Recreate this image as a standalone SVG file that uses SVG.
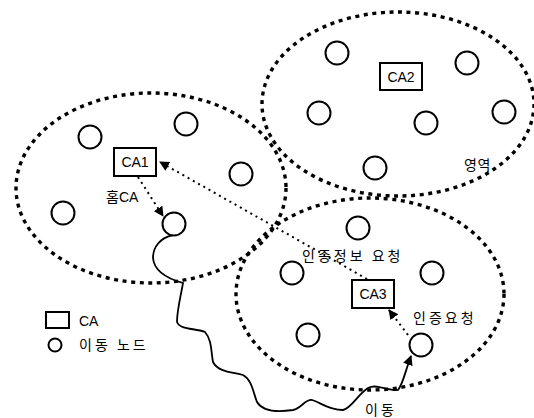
<svg xmlns="http://www.w3.org/2000/svg" width="534" height="418" viewBox="0 0 534 418">
<style>
.region{fill:none;stroke:#000;stroke-width:3.4;stroke-dasharray:4 4.6}
.node{fill:#fff;stroke:#000;stroke-width:2}
.ca{fill:#fff;stroke:#000;stroke-width:2}
.t{font-family:"Liberation Sans",Arial,sans-serif;font-size:14px;fill:#000}
.k{font-family:"Noto Sans CJK KR","Noto Sans",sans-serif;font-size:14px;fill:#000;letter-spacing:3px}
.dot{fill:none;stroke:#000;stroke-width:2;stroke-dasharray:2 4}
.move{fill:none;stroke:#000;stroke-width:1.8}
</style>
<defs>
<marker id="ah" viewBox="0 0 10 10" refX="9" refY="5" markerWidth="10" markerHeight="10" markerUnits="userSpaceOnUse" orient="auto">
<path d="M0,0 L10,5 L0,10 z" fill="#000"/>
</marker>
</defs>
<rect width="534" height="418" fill="#fff"/>
<g id="regions">
<ellipse id="region1" class="region" cx="151" cy="188" rx="135" ry="95"/>
<ellipse id="region2" class="region" cx="398" cy="104" rx="136" ry="92"/>
<ellipse id="region3" class="region" cx="370" cy="294" rx="134" ry="96"/>
</g>
<g id="connectors">
<path class="dot" d="M367,279 L160,162" marker-end="url(#ah)"/>
<path class="dot" d="M138,177 L163,216" marker-end="url(#ah)"/>
<path class="dot" d="M408,335 L389,310" marker-end="url(#ah)"/>
<path class="move" d="M173,235 C160,238 153,247 153,258 C154,270 165,278 183,283 C181,295 177,310 177,322 C180,330 195,328 205,332 C212,340 211,352 213,362 C218,372 232,372 243,375 C252,380 253,392 257,402 C263,412 280,412 293,410 C302,408 305,399 312,400 C320,402 328,410 343,410 C352,408 357,395 368,388 C377,383 390,392 398,390 C403,384 405,372 411,356" marker-end="url(#ah)"/>
</g>
<g id="nodes1">
<circle class="node" cx="90" cy="137" r="11.5"/>
<circle class="node" cx="186" cy="124" r="11.5"/>
<circle class="node" cx="241" cy="174" r="11.5"/>
<circle class="node" cx="63" cy="213" r="11.5"/>
<circle class="node" cx="174" cy="224" r="11.5"/>
</g>
<g id="nodes2">
<circle class="node" cx="337" cy="53" r="11.5"/>
<circle class="node" cx="467" cy="63" r="11.5"/>
<circle class="node" cx="319" cy="113" r="11.5"/>
<circle class="node" cx="426" cy="123" r="11.5"/>
<circle class="node" cx="504" cy="112" r="11.5"/>
<circle class="node" cx="375" cy="168" r="11.5"/>
</g>
<g id="nodes3">
<circle class="node" cx="358" cy="228" r="11.5"/>
<circle class="node" cx="292" cy="273" r="11.5"/>
<circle class="node" cx="432" cy="273" r="11.5"/>
<circle class="node" cx="308" cy="335" r="11.5"/>
<circle class="node" cx="421" cy="345" r="11.5"/>
</g>
<g id="CA1">
<rect class="ca" x="114" y="148" width="42" height="28"/>
<text class="t" x="135" y="167" text-anchor="middle">CA1</text>
</g>
<g id="CA2">
<rect class="ca" x="380" y="63" width="42" height="27"/>
<text class="t" x="401" y="81.5" text-anchor="middle">CA2</text>
</g>
<g id="CA3">
<rect class="ca" x="352" y="280" width="42" height="28"/>
<text class="t" x="373" y="299" text-anchor="middle">CA3</text>
</g>
<g id="labels">
<text class="k" x="106" y="202" style="letter-spacing:0">홈<tspan class="t">CA</tspan></text>
<text class="k" x="302" y="261">인증정보 요청</text>
<text class="k" x="413" y="323">인증요청</text>
<text class="k" x="464" y="170" style="letter-spacing:0.5px">영역</text>
<text class="k" x="365" y="415">이동</text>
</g>
<g id="legend">
<rect class="ca" x="46" y="312" width="23" height="16"/>
<text class="t" x="79" y="326">CA</text>
<circle class="node" cx="55" cy="345" r="6.5"/>
<text class="k" x="79" y="350">이동 노드</text>
</g>
</svg>
